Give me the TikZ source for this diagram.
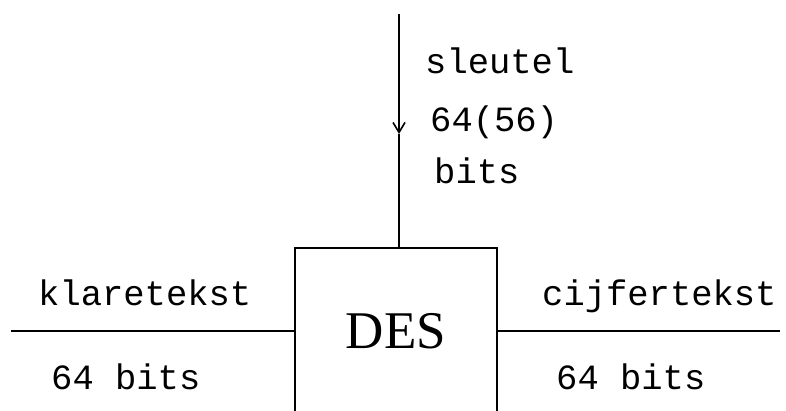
\documentclass[tikz,border=0pt]{standalone}
\usepackage{fontspec}
\setmainfont{Liberation Serif}
\setmonofont{Liberation Mono}
\usetikzlibrary{arrows.meta}
\tikzset{
  lbl/.style={font=\ttfamily\fontsize{35.5}{40}\selectfont, inner sep=0pt, anchor=base west},
  blok/.style={draw, line width=1.6pt, minimum width=202pt, minimum height=166pt, inner sep=0pt, font=\rmfamily\fontsize{53}{60}\selectfont},
  wire/.style={line width=1.6pt},
}

\begin{document}
\begin{tikzpicture}[x=1pt, y=-1pt]
\path[clip] (0,0) rectangle (786,410);
\node[blok] (des) at (396,331) {DES};
\coordinate (ktop) at (399,14);
\coordinate (kpijl) at (399,134);
\coordinate (kin) at (11,331);
\coordinate (kout) at (780,331);
% sleutel van boven
\draw[wire, -{Straight Barb[length=10pt, width=12pt, line width=1.6pt]}] (ktop) -- (kpijl);
\draw[wire] (kpijl) -- (kpijl |- des.north);
% in en uit
\draw[wire] (kin) -- (des.west);
\draw[wire] (des.east) -- (kout);
\node[lbl] (sleutel) at (425,73) {sleutel};
\node[lbl] (sbits) at (430,131) {64(56)};
\node[lbl] (sbits2) at (434,183) {bits};
\node[lbl] (klaar) at (38,305) {klaretekst};
\node[lbl] (kbits) at (51,389) {64 bits};
\node[lbl] (cijfer) at (542,305) {cijfertekst};
\node[lbl] (cbits) at (556,389) {64 bits};
\end{tikzpicture}
\end{document}
